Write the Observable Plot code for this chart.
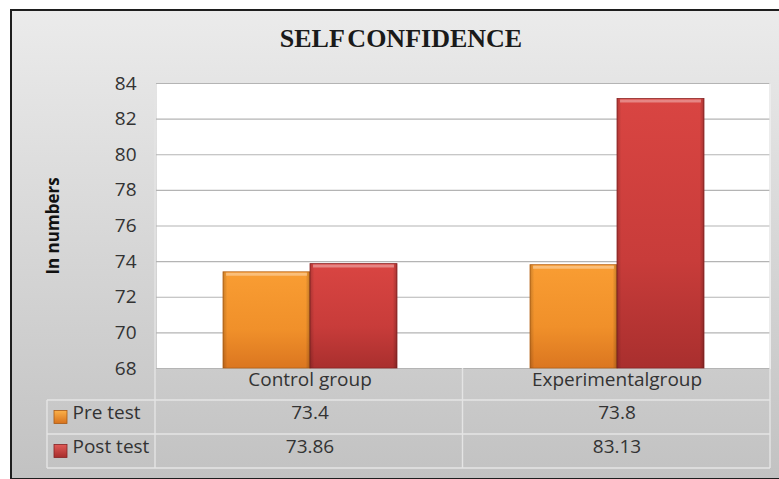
<!DOCTYPE html>
<html>
<head>
<meta charset="utf-8">
<script src="https://cdn.jsdelivr.net/npm/d3@7"></script>
<script src="https://cdn.jsdelivr.net/npm/@observablehq/plot@0.6"></script>
<style>
  html, body { margin: 0; padding: 0; background: #fff; }
  #wrap { position: relative; width: 779px; height: 479px; overflow: hidden; }
  #bg { position: absolute; left: 10px; top: 9px; width: 790px; height: 467px;
        border: 2px solid #1e1e1e; border-right: none;
        background: linear-gradient(#ebebeb, #c2c2c2); }
  #title { position: absolute; left: 0; top: 24px; width: 802px; text-align: center;
           font-family: "Liberation Serif", "Times New Roman", serif; font-weight: bold;
           font-size: 26px; color: #1a1a1a; word-spacing: -3px; }
  #chart { position: absolute; left: 0; top: 0; }
</style>
</head>
<body>
<div id="wrap">
  <div id="bg"></div>
  <div id="title">SELF CONFIDENCE</div>
  <div id="chart"></div>
</div>
<script>
const groups = ["Control group", "Experimentalgroup"];
const seriesNames = ["Pre test", "Post test"];
const preTest = [73.4, 73.8];
const postTest = [73.86, 83.13];
const yTicks = [68, 70, 72, 74, 76, 78, 80, 82, 84];
const yLabel = "In numbers";

const rows = groups.map((g, i) => ({group: g, pre: preTest[i], post: postTest[i]}));
const bars = rows.flatMap(r => [
  {group: r.group, series: seriesNames[0], value: r.pre},
  {group: r.group, series: seriesNames[1], value: r.post}
]);
const preBars = bars.filter(d => d.series === seriesNames[0]);
const postBars = bars.filter(d => d.series === seriesNames[1]);

const mL = 155, mR = 9, mT = 83, mB = 111, W = 779, H = 479;
const txt = "#333";
const fs = 19;
const first = () => groups[0];

const plot = Plot.plot({
  width: W, height: H,
  marginLeft: mL, marginRight: mR, marginTop: mT, marginBottom: mB,
  style: {background: "transparent", fontFamily: "'Open Sans', sans-serif", fontSize: fs + "px", color: txt},
  fx: {domain: groups, padding: 0, axis: null},
  x: {domain: seriesNames, paddingInner: 0, paddingOuter: 0.747, axis: null},
  y: {domain: [68, 84], ticks: yTicks, tickSize: 0, tickPadding: 20, label: null, tickFormat: d => String(d)},
  marks: [
    Plot.frame({fill: "white", stroke: "none", shapeRendering: "crispEdges"}),
    Plot.ruleY(yTicks, {stroke: "#b4b4b4", strokeWidth: 1.2}),
    Plot.barY(preBars, {fx: "group", x: "series", y1: 68, y2: "value", fill: "url(#gPre)", stroke: "#b86418", strokeWidth: 0.8}),
    Plot.barY(postBars, {fx: "group", x: "series", y1: 68, y2: "value", fill: "url(#gPost)", stroke: "#8e2626", strokeWidth: 0.8}),
    Plot.barY(bars, {fx: "group", x: "series", y1: 68, y2: "value", fill: "url(#gBevel)"}),
    Plot.tickY(bars, {fx: "group", x: "series", y: "value", stroke: "rgba(255,255,255,0.35)", strokeWidth: 3, dy: 2, insetLeft: 3, insetRight: 3}),
    // table: header row and value rows
    Plot.text(rows, {fx: "group", text: "group", frameAnchor: "bottom", dy: 17, fontSize: fs, fill: txt}),
    Plot.text(rows, {fx: "group", text: d => String(d.pre), frameAnchor: "bottom", dy: 50, fontSize: fs, fill: txt}),
    Plot.text(rows, {fx: "group", text: d => String(d.post), frameAnchor: "bottom", dy: 84, fontSize: fs, fill: txt}),
    // row labels
    Plot.text([seriesNames[0]], {fx: first, frameAnchor: "bottom-left", textAnchor: "start", dx: -84, dy: 50, fontSize: fs, fill: txt}),
    Plot.text([seriesNames[1]], {fx: first, frameAnchor: "bottom-left", textAnchor: "start", dx: -84, dy: 84, fontSize: fs, fill: txt}),
    // y label
    Plot.text([yLabel], {fx: first, frameAnchor: "left", textAnchor: "middle", dx: -103, rotate: -90, fontWeight: "bold", fontSize: 17, fill: "#111"})
  ]
});

const svg = d3.select(plot);
const defs = svg.insert("defs", ":first-child");
function vgrad(id, stops) {
  const g = defs.append("linearGradient").attr("id", id).attr("x1", 0).attr("y1", 0).attr("x2", 0).attr("y2", 1);
  stops.forEach(([o, c, a]) => g.append("stop").attr("offset", o).attr("stop-color", c).attr("stop-opacity", a ?? 1));
}
vgrad("gPre", [[0, "#f99d33"], [0.6, "#f0902a"], [1, "#db7620"]]);
vgrad("gPost", [[0, "#d94542"], [0.6, "#c83c3a"], [1, "#a92f2e"]]);
vgrad("sPre", [[0, "#fbb14a"], [1, "#d7721d"]]);
vgrad("sPost", [[0, "#e05a57"], [1, "#a62d2c"]]);
const bev = defs.append("linearGradient").attr("id", "gBevel").attr("x1", 0).attr("y1", 0).attr("x2", 1).attr("y2", 0);
[[0, "#000", 0.18], [0.05, "#000", 0], [0.95, "#000", 0], [1, "#000", 0.22]].forEach(([o, c, a]) =>
  bev.append("stop").attr("offset", o).attr("stop-color", c).attr("stop-opacity", a));

// table grid lines (layout decoration derived from plot margins)
const L = mL, R = W - mR, B = H - mB, Tl = 47;
const mid = (L + R) / 2;
const r1 = B + 32, r2 = B + 66, r3 = B + 100;
const g = svg.append("g").attr("stroke", "#e4e4e4").attr("stroke-width", 1.4).attr("fill", "none");
[[Tl, r1, R, r1], [Tl, r2, R, r2], [Tl, r3, R, r3],
 [Tl, r1, Tl, r3], [L, mT, L, r3], [mid, B, mid, r3], [R, mT, R, r3]].forEach(([x1, y1, x2, y2]) =>
  g.append("line").attr("x1", x1).attr("y1", y1).attr("x2", x2).attr("y2", y2));

// legend swatches
[["sPre", "#a85a16", r1 + 17], ["sPost", "#862424", r2 + 17]].forEach(([id, s, cy]) =>
  svg.append("rect").attr("x", 54).attr("y", cy - 6.5).attr("width", 13).attr("height", 13)
     .attr("fill", `url(#${id})`).attr("stroke", s).attr("stroke-width", 0.8));

document.getElementById("chart").appendChild(plot);
</script>
</body>
</html>
